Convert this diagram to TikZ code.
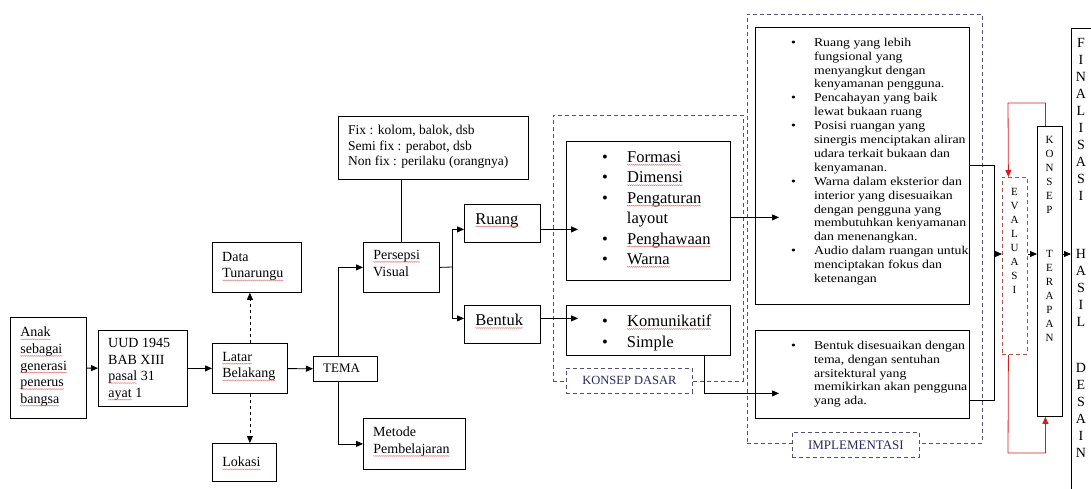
\documentclass[tikz,border=0pt]{standalone}
\usepackage{fontspec}
\setmainfont{Liberation Serif}
\newfontfamily\widefont[FakeStretch=1.15]{Liberation Serif}
\usetikzlibrary{arrows.meta,decorations.pathmorphing}
\definecolor{dashblue}{RGB}{80,80,120}
\definecolor{lblue}{RGB}{40,40,100}
\definecolor{evred}{RGB}{175,80,70}
\definecolor{linkred}{RGB}{215,30,30}
\definecolor{wavered}{RGB}{225,100,100}
\newcommand\fsz[2]{\fontsize{#1}{#2}\selectfont}
\newcommand\spl[1]{\tikz[baseline=(w.base)]{\node[inner sep=0, outer sep=0, anchor=base west] (w) {#1};
\draw[wavered, line width=0.35pt, decorate, decoration={zigzag, amplitude=0.55pt, segment length=2pt}] ([yshift=-2.4pt]w.base west) -- ([yshift=-2.4pt]w.base east);}}

\begin{document}
\begin{tikzpicture}[x=1pt, y=-1pt,
box/.style={draw, line width=0.8pt, anchor=north west, inner sep=0},
dbox/.style={draw=dashblue, dash pattern=on 4pt off 3pt, line width=0.8pt, anchor=north west, inner sep=0},
txt/.style={align=left, anchor=north west, inner sep=0},
arr/.style={-{Triangle[length=7pt,width=6pt]}, line width=0.8pt},
redarr/.style={-{Triangle[length=7pt,width=6pt]}, line width=0.8pt, draw=linkred, color=linkred},
]
\useasboundingbox (0,0) rectangle (1091,489);
\clip (0,0) rectangle (1091,489);

% left chain
\node (anak) [box, minimum width=76, minimum height=101] at (10,317) {};
\node (uud) [box, minimum width=89, minimum height=76] at (98,330) {};
\node (latar) [box, minimum width=75, minimum height=50] at (212,343) {};
\node (data) [box, minimum width=89, minimum height=50] at (212,242) {};
\node (lok) [box, minimum width=64, minimum height=38] at (212,443) {};
\node (tema) [box, minimum width=64, minimum height=25] at (313,356) {};
\node (pers) [box, minimum width=76, minimum height=50] at (363,242) {};
\node (met) [box, minimum width=102, minimum height=51] at (363,418) {};
\node (fix) [box, minimum width=190, minimum height=63] at (338,116) {};
\node (ruang) [box, minimum width=76, minimum height=38] at (464,204) {};
\node (bentuk) [box, minimum width=76, minimum height=38] at (464,305) {};

\node (a) [txt, font=\fsz{14}{16.6}] at (20,327) {\spl{Anak}\\\spl{sebagai}\\\spl{generasi}\\\spl{penerus}\\\spl{bangsa}};
\node (b) [txt, font=\fsz{14}{16.6}] at (108,338) {UUD 1945\\BAB XIII\\\spl{pasal} 31\\\spl{ayat} 1};
\node (c) [txt, font=\fsz{14}{16.6}] at (222,352) {\spl{Latar}\\\spl{Belakang}};
\node (d) [txt, font=\fsz{14}{16.6}] at (222,252) {Data\\\spl{Tunarungu}};
\node (e) [txt, font=\fsz{14}{16.6}] at (222,457) {\spl{Lokasi}};
\node (f) [txt, font=\fsz{13}{15.6}] at (323,363.5) {TEMA};
\node (g) [txt, font=\fsz{14}{16.6}] at (373,250) {\spl{Persepsi}\\Visual};
\node (h) [txt, font=\fsz{14}{16.6}] at (373,427) {Metode\\\spl{Pembelajaran}};
\node (i) [txt, font=\fsz{13.5}{15.6}] at (348,125) {Fix : kolom, balok, dsb\\Semi fix : perabot, dsb\\Non fix : perilaku (orangnya)};
\node (j) [txt, font=\fsz{16.5}{19.8}] at (475,213) {\spl{Ruang}};
\node (k) [txt, font=\fsz{16.5}{19.8}] at (475,314) {\spl{Bentuk}};

% konsep dasar
\node (KD) [dbox, minimum width=190, minimum height=266] at (553,115) {};
\node (fbox) [box, minimum width=164, minimum height=139] at (566,141) {};
\node (kbox) [box, minimum width=164, minimum height=50] at (566,305) {};
\node (l) [txt, font=\fsz{16.5}{20.4}] at (602,148) {\begin{tabular}{@{}l@{\hspace{19pt}}l@{}}
\textbullet & \spl{Formasi}\\ \textbullet & \spl{Dimensi}\\ \textbullet & \spl{Pengaturan}\\ & layout\\ \textbullet & \spl{Penghawaan}\\ \textbullet & \spl{Warna}\end{tabular}};
\node (m) [txt, font=\fsz{16.5}{21}] at (602,311.7) {\begin{tabular}{@{}l@{\hspace{19pt}}l@{}}
\textbullet & \spl{Komunikatif}\\ \textbullet & Simple\end{tabular}};
\node (lKD) [dbox, fill=white, minimum width=126, minimum height=25, anchor=north west, text=lblue, font=\fsz{12.5}{15}] at (566,368) {KONSEP DASAR};

% implementasi
\node (IM) [dbox, minimum width=235, minimum height=429] at (747,14) {};
\node (big1) [box, minimum width=214, minimum height=277] at (755,27) {};
\node (big2) [box, minimum width=214, minimum height=88] at (755,330) {};
\node (n) [txt, font=\widefont\fsz{12}{13.9}] at (791,36.3) {\begin{tabular}{@{}l@{\hspace{18pt}}l@{}}
\textbullet & Ruang yang lebih\\ & fungsional yang\\ & menyangkut dengan\\ & kenyamanan pengguna.\\
\textbullet & Pencahayan yang baik\\ & lewat bukaan ruang\\
\textbullet & Posisi ruangan yang\\ & sinergis menciptakan aliran\\ & udara terkait bukaan dan\\ & kenyamanan.\\
\textbullet & Warna dalam eksterior dan\\ & interior yang disesuaikan\\ & dengan pengguna yang\\ & membutuhkan kenyamanan\\ & dan menenangkan.\\
\textbullet & Audio dalam ruangan untuk\\ & menciptakan fokus dan\\ & ketenangan\end{tabular}};
\node (o) [txt, font=\widefont\fsz{12}{13.9}] at (791,339.3) {\begin{tabular}{@{}l@{\hspace{18pt}}l@{}}
\textbullet & Bentuk disesuaikan dengan\\ & tema, dengan sentuhan\\ & arsitektural yang\\ & memikirkan akan pengguna\\ & yang ada.\end{tabular}};
\node (lIM) [dbox, fill=white, minimum width=127, minimum height=25, anchor=north west, text=lblue, font=\fsz{13}{15}] at (792,432) {IMPLEMENTASI};

% evaluasi, konsep terapan, finalisasi
\node (ev) [box, draw=evred, dash pattern=on 4pt off 3pt, minimum width=25, minimum height=177] at (1002,177) {};
\node (kt) [box, minimum width=25, minimum height=290] at (1037,126) {};
\node (fin) [box, minimum width=40, minimum height=480] at (1071,28) {};
\node (p) [align=center, font=\fsz{11}{14}] at (1014.5,241) {E\\V\\A\\L\\U\\A\\S\\I};
\node (q) [align=center, font=\fsz{11}{14}] at (1049.5,175) {K\\O\\N\\S\\E\\P};
\node (r) [align=center, font=\fsz{11}{14}] at (1049.5,296) {T\\E\\R\\A\\P\\A\\N};
\node (s) [align=center, font=\fsz{14}{17}] at (1081,119.5) {F\\I\\N\\A\\L\\I\\S\\A\\S\\I};
\node (t) [align=center, font=\fsz{14}{17}] at (1081,288) {H\\A\\S\\I\\L};
\node (u) [align=center, font=\fsz{14}{17}] at (1081,410) {D\\E\\S\\A\\I\\N};

% connectors
\draw[arr] (anak) -- (uud);
\draw[arr] (uud) -- (latar);
\draw[arr] (latar) -- (tema);
\draw[arr, dashed] (latar.north) -- (latar.north |- data.south);
\draw[arr, dashed] (latar.south) -- (latar.south |- lok.north);
\draw[arr] ([xshift=-7pt]tema.north) |- (pers);
\draw[arr] ([xshift=-7pt]tema.south) |- (met);
\draw[line width=0.8pt] (pers.north) -- (pers.north |- fix.south);
\coordinate (split) at (452,267);
\draw[line width=0.8pt] (pers.east) -- (split);
\draw[arr] (split) |- ([yshift=-6pt]ruang.west);
\draw[arr] (split) |- ([yshift=6pt]bentuk.west);
\draw[arr, shorten >=-12pt] ([yshift=-6pt]ruang.east) -- ([yshift=-6pt]ruang.east -| fbox.west);
\draw[arr, shorten >=-12pt] ([yshift=6pt]bentuk.east) -- ([yshift=6pt]bentuk.east -| kbox.west);
\draw[arr, shorten >=-24pt] ([yshift=-6.5pt]fbox.east) -- ([yshift=-6.5pt]fbox.east -| big1.west);
\draw[arr, shorten >=-24pt] ([xshift=56pt]kbox.south) |- ([yshift=-19pt]big2.west);
\coordinate (join) at (994,254);
\draw[line width=0.8pt] (big1.east) -| (join);
\draw[line width=0.8pt] ([yshift=-26pt]big2.east) -| (join);
\draw[arr] (join) -- (join -| ev.west);
\draw[arr] (join -| ev.east) -- (join -| kt.west);
\draw[arr] (join -| kt.east) -- (join -| fin.west);
\coordinate (rtop) at (1008,103);
\coordinate (rbot) at (1008,453);
\draw[redarr] ([xshift=-4.5pt]kt.north) |- (rtop) -- ([xshift=-6.5pt]ev.north);
\draw[redarr] ([xshift=-6.5pt]ev.south) -- (rbot) -| ([xshift=-4.5pt]kt.south);

\end{tikzpicture}
\end{document}
